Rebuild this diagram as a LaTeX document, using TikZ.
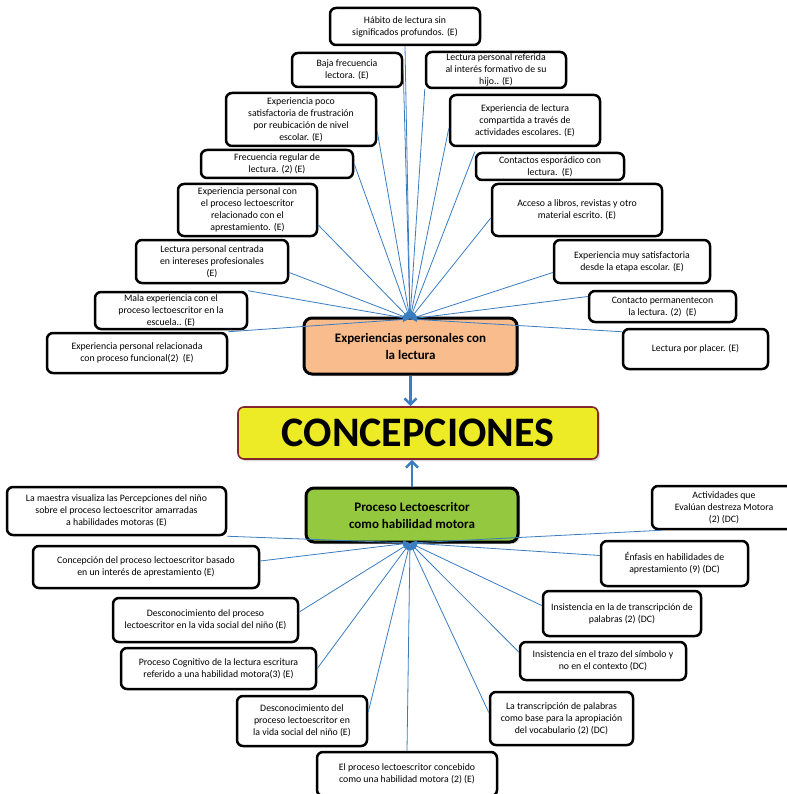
\documentclass[tikz,border=0pt]{standalone}
\usepackage{fontspec}
\setmainfont{Carlito}
\usepackage{tikz}
\usetikzlibrary{arrows.meta,shadows}
\definecolor{azulLinea}{RGB}{58,125,192}
\definecolor{naranja}{RGB}{249,188,140}
\definecolor{amarillo}{RGB}{237,234,38}
\definecolor{rojoBorde}{RGB}{130,40,45}
\definecolor{verde}{RGB}{148,200,62}

\begin{document}
\begin{tikzpicture}[x=1pt, y=-1pt,
                hoja/.style={draw=black, line width=2.5pt, rounded corners=6pt, fill=white, align=center, inner sep=1pt, font=\fontsize{9.8}{12}\selectfont},
                tema/.style={draw=black, line width=3pt, rounded corners=8pt, align=center, font=\fontsize{13}{17}\selectfont\bfseries, drop shadow={opacity=.3, shadow xshift=2pt, shadow yshift=-2pt}},
                rama/.style={-{Latex[length=7pt,width=5pt]}, azulLinea, line width=.8pt},
                flecha/.style={-{Straight Barb[length=6pt,width=12pt]}, azulLinea, line width=2.6pt}
            ]
            \fill[white] (0,0) rectangle (786,794);
            \useasboundingbox (0,0) rectangle (786,794);

            % Centro
            \node[tema, fill=naranja, minimum width=213pt, minimum height=56pt] (exp) at (410.5,346) {Experiencias personales con\\la lectura};
            \node[draw=rojoBorde, line width=1.6pt, rounded corners=6pt, fill=amarillo, minimum width=360pt, minimum height=52pt, font=\fontsize{42}{46}\selectfont\bfseries, drop shadow={opacity=.3, shadow xshift=2pt, shadow yshift=-2pt}] (conc) at (418,433) {CONCEPCIONES};
            \node[tema, fill=verde, minimum width=212pt, minimum height=54pt] (proc) at (412,515) {Proceso Lectoescritor\\como habilidad motora};

            \coordinate (arriba) at (410,319);
            \coordinate (abajo) at (410,543);

            % Experiencias (E)
            \node[hoja, minimum width=150pt, minimum height=37pt] (b1) at (405,26.5) {Hábito de lectura sin\\significados profundos. (E)};
            \node[hoja, minimum width=110pt, minimum height=34pt] (b2) at (347,70) {Baja frecuencia\\lectora. (E)};
            \node[hoja, minimum width=140pt, minimum height=36pt] (b3) at (496,70) {Lectura personal referida\\al interés formativo de su\\hijo.. (E)};
            \node[hoja, minimum width=150pt, minimum height=53pt] (b4) at (301,119.5) {Experiencia poco\\satisfactoria de frustración\\por reubicación de nivel\\escolar. (E)};
            \node[hoja, minimum width=150pt, minimum height=51pt] (b5) at (525,120.5) {Experiencia de lectura\\compartida a través de\\actividades escolares. (E)};
            \node[hoja, minimum width=152pt, minimum height=28pt] (b6) at (277,164) {Frecuencia regular de\\lectura. (2) (E)};
            \node[hoja, minimum width=148pt, minimum height=27pt] (b7) at (550,166.5) {Contactos esporádico con\\lectura.~~(E)};
            \node[hoja, minimum width=139pt, minimum height=52pt] (b8) at (247.5,210) {Experiencia personal con\\el proceso lectoescritor\\relacionado con el\\aprestamiento. (E)};
            \node[hoja, minimum width=170pt, minimum height=52pt] (b9) at (577,210) {Acceso a libros, revistas y otro\\material escrito. (E)};
            \node[hoja, minimum width=152pt, minimum height=43pt] (b10) at (212,261.5) {Lectura personal centrada\\en intereses profesionales\\(E)};
            \node[hoja, minimum width=156pt, minimum height=43pt] (b11) at (632,261.5) {Experiencia muy satisfactoria\\desde la etapa escolar. (E)};
            \node[hoja, minimum width=152pt, minimum height=37pt] (b12) at (171,310.5) {Mala experiencia con el\\proceso lectoescritor en la\\escuela.. (E)};
            \node[hoja, minimum width=147pt, minimum height=31pt] (b13) at (662.5,306.5) {Contacto permanentecon\\la lectura. (2)~~(E)};
            \node[hoja, minimum width=180pt, minimum height=40pt] (b14) at (137,353) {Experiencia personal relacionada\\con proceso funcional(2)~~(E)};
            \node[hoja, minimum width=145pt, minimum height=40pt] (b15) at (695.5,349) {Lectura por placer. (E)};

            % Habilidad motora (E) y (DC)
            \node[hoja, minimum width=219pt, minimum height=48pt] (l1) at (116.5,511) {La maestra visualiza las Percepciones del niño\\sobre el proceso lectoescritor amarradas\\a habilidades motoras (E)};
            \node[hoja, minimum width=226pt, minimum height=42pt] (l2) at (146,567) {Concepción del proceso lectoescritor basado\\en un interés de aprestamiento (E)};
            \node[hoja, minimum width=185pt, minimum height=44pt] (l3) at (205.5,620) {Desconocimiento del proceso\\lectoescritor en la vida social del niño (E)};
            \node[hoja, minimum width=195pt, minimum height=41pt] (l4) at (218.5,668.5) {Proceso Cognitivo de la lectura escritura\\referido a una habilidad motora(3) (E)};
            \node[hoja, minimum width=130pt, minimum height=50pt] (l5) at (302,721) {Desconocimiento del\\proceso lectoescritor en\\la vida social del niño (E)};
            \node[hoja, minimum width=180pt, minimum height=44pt] (l6) at (407,774) {El proceso lectoescritor concebido\\como una habilidad motora (2) (E)};
            \node[hoja, minimum width=144pt, minimum height=43pt] (r1) at (724,507.5) {Actividades que\\Evalúan destreza Motora\\(2) (DC)};
            \node[hoja, minimum width=147pt, minimum height=45pt] (r2) at (674.5,563.5) {Énfasis en habilidades de\\aprestamiento (9) (DC)};
            \node[hoja, minimum width=158pt, minimum height=45pt] (r3) at (622,613.5) {Insistencia en la de transcripción de\\palabras (2) (DC)};
            \node[hoja, minimum width=166pt, minimum height=38pt] (r4) at (603,661) {Insistencia en el trazo del símbolo y\\no en el contexto (DC)};
            \node[hoja, minimum width=143pt, minimum height=53pt] (r5) at (561.5,718.5) {La transcripción de palabras\\como base para la apropiación\\del vocabulario (2) (DC)};

            % Ramas hacia los centros (ancla / desplazamiento x / desplazamiento y)
            \foreach \n/\dx/\dy in {b1.south/0/0, b2.east/0/0, b3.south west/0/0, b4.east/0/-12, b5.west/0/-8,
                                    b6.east/0/0, b7.north west/0/0, b8.east/0/-15, b9.west/0/-8,
                                    b10.east/0/-11, b11.west/0/-11, b12.north east/0/0,
                                    b13.west/0/10, b14.north east/0/0, b15.north west/0/-4}
                \draw[rama] ([xshift=\dx pt, yshift=\dy pt]\n) -- (arriba);
            \foreach \n/\dx/\dy in {l1.south east/0/0, l2.east/0/6, l3.east/0/8, l4.east/0/0,
                                    l5.east/0/9, l6.north/0/0, r1.south west/11/0,
                                    r2.west/0/8, r3.west/0/8, r4.west/0/9, r5.west/0/6}
                \draw[rama] ([xshift=\dx pt, yshift=\dy pt]\n) -- (abajo);

            % Flechas principales
            \draw[flecha] (exp.south) -- (exp.south |- conc.north);
            \draw[flecha] (proc.north) -- (proc.north |- conc.south);
        \end{tikzpicture}
\end{document}
